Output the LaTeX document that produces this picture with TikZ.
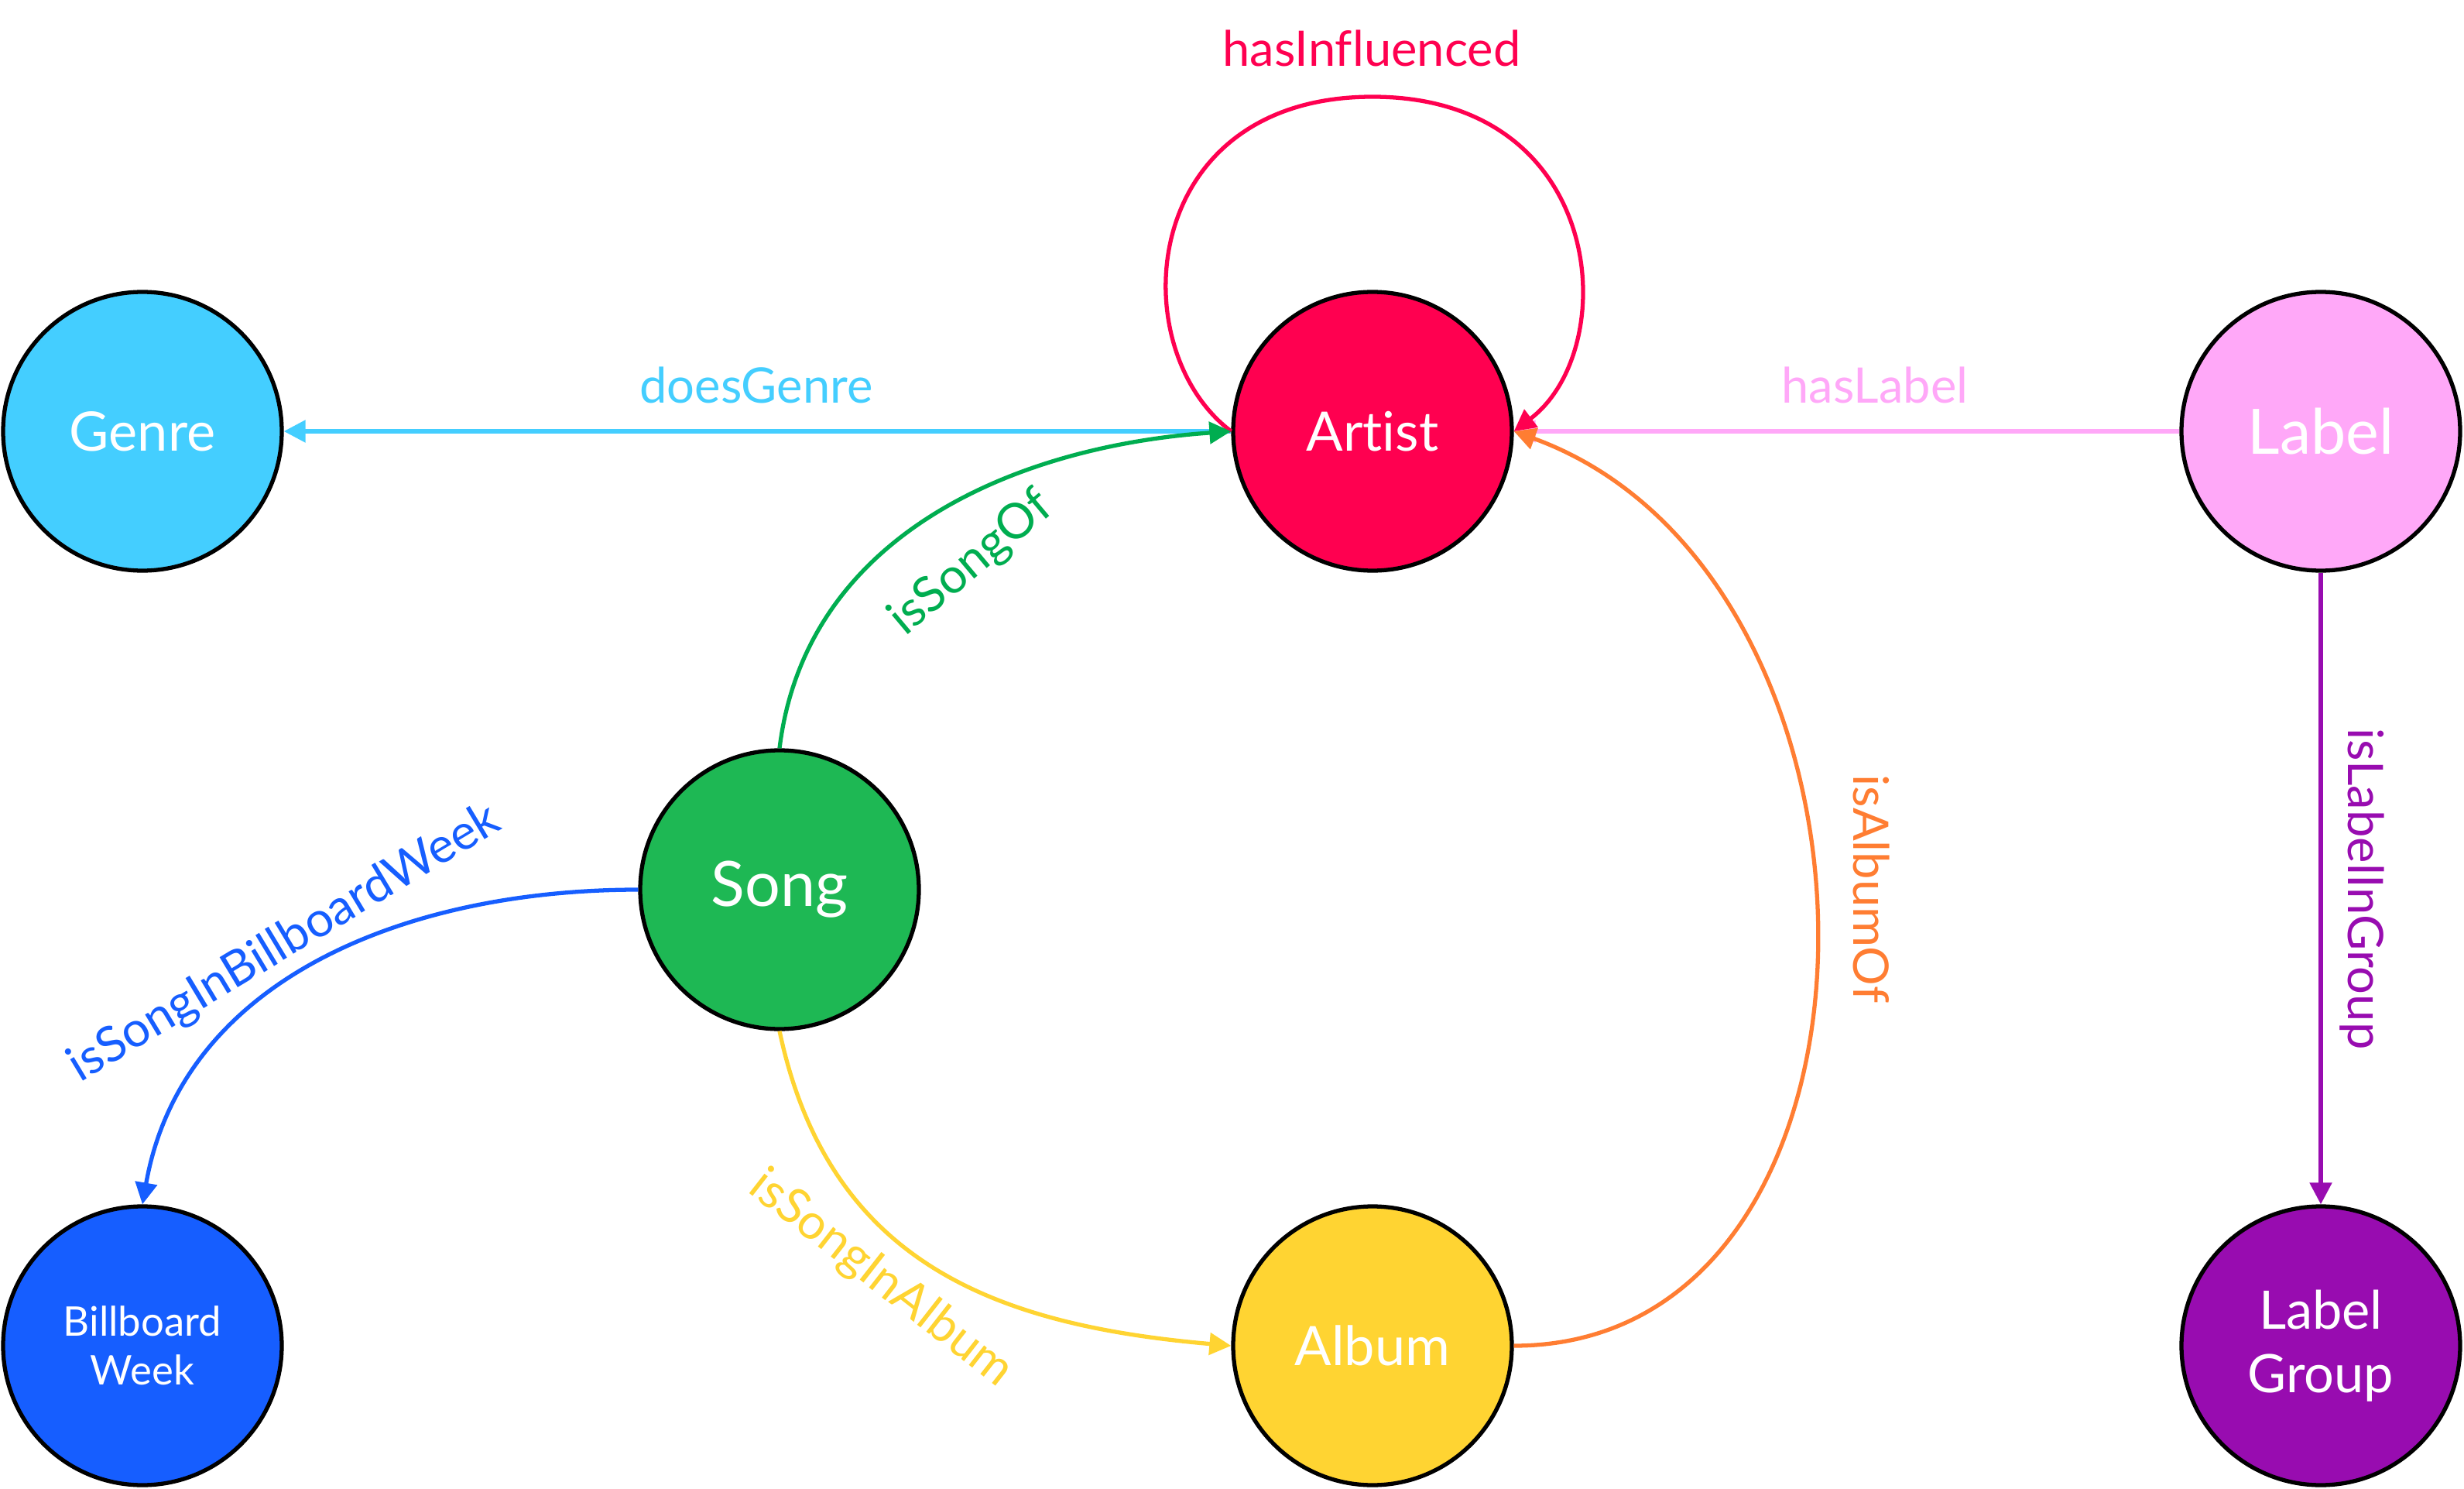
\documentclass[tikz,border=0pt]{standalone}
\usepackage{fontspec}
\setmainfont{Lato}[Ligatures=NoCommon]
\usepackage{xcolor}
\definecolor{genre_blue}{RGB}{68,206,255}
\definecolor{artist_red}{RGB}{255,0,80}
\definecolor{label_pink}{RGB}{255,168,248}
\definecolor{song_green}{RGB}{30,184,84}
\definecolor{songof_green}{RGB}{0,173,80}
\definecolor{week_blue}{RGB}{22,94,255}
\definecolor{album_yellow}{RGB}{255,212,50}
\definecolor{albumof_orange}{RGB}{255,125,50}
\definecolor{group_purple}{RGB}{152,12,176}
\usetikzlibrary{arrows.meta}

\begin{document}
\begin{tikzpicture}[
  entity/.style = {circle, draw = black, line width = 1.5pt, minimum size = 3.6cm, inner sep = 0pt,
                   text = white, align = center, font = \fontsize{20}{24}\selectfont},
  relation/.style = {line width = 1.5pt, -{Triangle[length=2.8mm, width=2.8mm]}},
  rellabel/.style = {inner sep = 0pt, font = \fontsize{18}{22}\selectfont}
]
\useasboundingbox (0, 0) rectangle (31.83, -19.23);

% entities
\node [entity, fill = genre_blue] (genre) at (1.84, -5.57) {Genre};
\node [entity, fill = artist_red] (artist) at (17.73, -5.57) {Artist};
\node [entity, fill = label_pink, font = \fontsize{23}{27}\selectfont] (label) at (29.98, -5.57) {Label};
\node [entity, fill = song_green, font = \fontsize{23}{27}\selectfont] (song) at (10.07, -11.49) {Song};
\node [entity, fill = week_blue, font = \fontsize{15}{18}\selectfont] (week) at (1.84, -17.38) {Billboard\\Week};
\node [entity, fill = album_yellow] (album) at (17.73, -17.38) {Album};
\node [entity, fill = group_purple, font = \fontsize{19.5}{23.3}\selectfont] (group) at (29.98, -17.38) {Label\\Group};

% relations
\coordinate (loop_top) at (17.73, -1.25);
\draw [relation, draw = genre_blue] (artist.west) -- (genre.east);
\draw [relation, draw = label_pink] (label.west) -- (artist.east);
\draw [relation, draw = artist_red] (artist.west) .. controls +(-1.42, 1.07) and +(-3.03, 0) .. (loop_top)
      .. controls +(3.03, 0) and +(1.41, 1.07) .. (artist.east);
\draw [relation, draw = songof_green] (song.north) to [out = 83, in = 184] (artist.west);
\draw [relation, draw = album_yellow] (song.south) to [out = -78, in = 175, looseness = 1.1] (album.west);
\draw [relation, draw = week_blue] (song.west) to [out = 180, in = 80] (week.north);
\draw [relation, draw = albumof_orange] (album.east) .. controls +(5.2, 0) and +(5.2, -1.89) .. (artist.east);
\draw [relation, draw = group_purple] (label.south) -- (group.north);

% relation labels
\node [rellabel, text = genre_blue] (doesgenre) at (9.77, -4.97) {doesGenre};
\node [rellabel, text = label_pink] (haslabel) at (24.22, -4.97) {hasLabel};
\node [rellabel, text = artist_red] (hasinfluenced) at (17.72, -0.62) {hasInfluenced};
\node [rellabel, text = songof_green, rotate = 40] (issongof) at (12.55, -7.28) {isSongOf};
\node [rellabel, text = week_blue, rotate = 31] (issonginweek) at (3.68, -12.19) {isSongInBillboardWeek};
\node [rellabel, text = album_yellow, rotate = -38] (issonginalbum) at (11.38, -16.52) {isSongInAlbum};
\node [rellabel, text = albumof_orange, rotate = -90] (isalbumof) at (24.18, -11.48) {isAlbumOf};
\node [rellabel, text = group_purple, rotate = -90] (islabelingroup) at (30.51, -11.48) {isLabelInGroup};

\end{tikzpicture}
\end{document}
